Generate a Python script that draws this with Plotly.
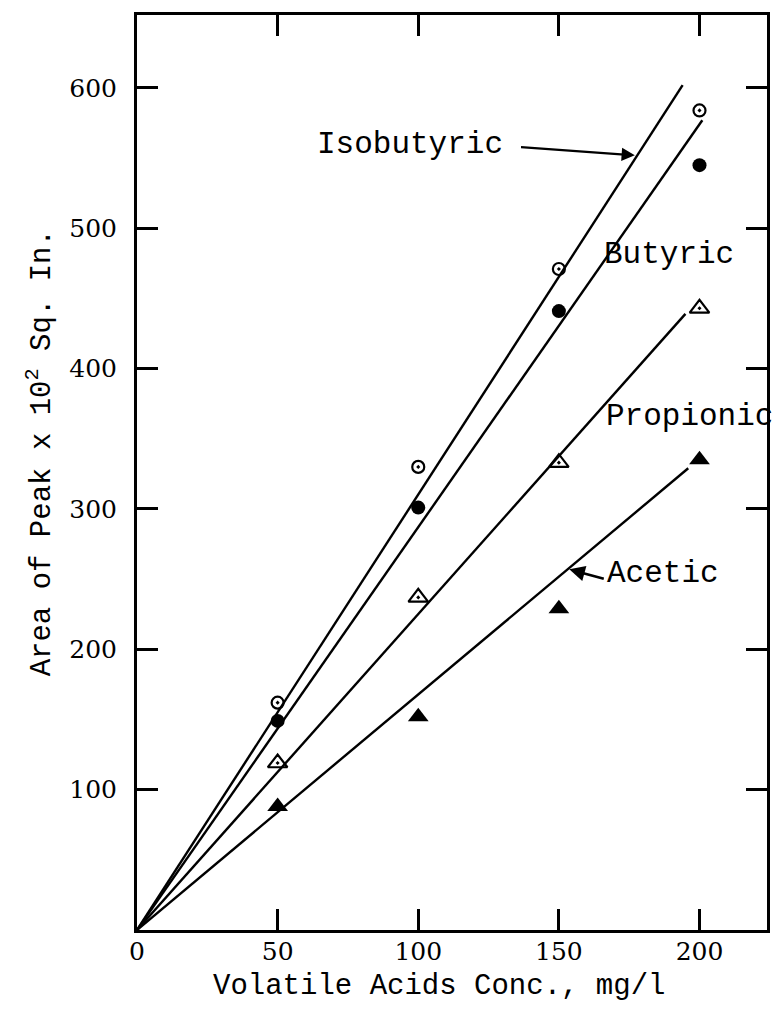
import plotly.graph_objects as go

# Measured peak areas (x 10^2 sq. in.) for each acid at each concentration
conc = [50, 100, 150, 200]
isobutyric = [162, 330, 471, 584]
butyric = [149, 301, 441, 545]
propionic = [119, 237, 333, 443]
acetic = [88, 152, 229, 335]

# Calibration lines drawn from the origin to their end points
fit_isobutyric_x = [0, 194]
fit_isobutyric_y = [0, 602]
fit_butyric_x = [0, 201]
fit_butyric_y = [0, 577]
fit_propionic_x = [0, 195]
fit_propionic_y = [0, 439]
fit_acetic_x = [0, 196]
fit_acetic_y = [0, 329]

x_ticks = [0, 50, 100, 150, 200]
y_ticks = [100, 200, 300, 400, 500, 600]

TYPE_FONT = "Liberation Mono, Courier New, monospace"
NUM_FONT = "DejaVu Serif, serif"
INK = "black"

fig = go.Figure()

for fx, fy in [(fit_isobutyric_x, fit_isobutyric_y), (fit_butyric_x, fit_butyric_y),
               (fit_propionic_x, fit_propionic_y), (fit_acetic_x, fit_acetic_y)]:
    fig.add_trace(go.Scatter(x=fx, y=fy, mode="lines",
                             line=dict(color=INK, width=2.4), showlegend=False,
                             hoverinfo="skip"))

fig.add_trace(go.Scatter(x=conc, y=isobutyric, mode="markers", name="Isobutyric",
                         marker=dict(symbol="circle-open-dot", size=12, color=INK,
                                     line=dict(width=2.2, color=INK))))
fig.add_trace(go.Scatter(x=conc, y=butyric, mode="markers", name="Butyric",
                         marker=dict(symbol="circle", size=14, color=INK)))
fig.add_trace(go.Scatter(x=conc, y=propionic, mode="markers", name="Propionic",
                         marker=dict(symbol="triangle-up-open-dot", size=17, color=INK,
                                     line=dict(width=2.2, color=INK))))
fig.add_trace(go.Scatter(x=conc, y=acetic, mode="markers", name="Acetic",
                         marker=dict(symbol="triangle-up", size=18, color=INK)))

label_font = dict(family=TYPE_FONT, size=31, color=INK)

# Curve labels
fig.add_annotation(x=97, y=560, text="Isobutyric", showarrow=False, font=label_font)
fig.add_annotation(x=189, y=481, text="Butyric", showarrow=False, font=label_font)
fig.add_annotation(x=196.5, y=366, text="Propionic", showarrow=False, font=label_font)
fig.add_annotation(x=187, y=254, text="Acetic", showarrow=False, font=label_font)

# Pointer arrows
fig.add_annotation(x=177, y=552, ax=136, ay=558, xref="x", yref="y", axref="x", ayref="y",
                   text="", showarrow=True, arrowhead=2, arrowsize=1.2, arrowwidth=2.2,
                   arrowcolor=INK)
fig.add_annotation(x=153.7, y=257, ax=166.5, ay=250, xref="x", yref="y", axref="x", ayref="y",
                   text="", showarrow=True, arrowhead=2, arrowsize=1.2, arrowwidth=2.6,
                   arrowcolor=INK)

# Axis titles
fig.add_annotation(xref="paper", yref="paper", x=0.479, y=-0.062,
                   xanchor="center", yanchor="middle",
                   text="Volatile Acids Conc., mg/l", showarrow=False,
                   font=dict(family=TYPE_FONT, size=29, color=INK))
fig.add_annotation(xref="paper", yref="paper", x=-0.154, y=0.522, textangle=-90,
                   xanchor="center", yanchor="middle",
                   text="Area of Peak x 10<sup>2</sup> Sq. In.", showarrow=False,
                   font=dict(family=TYPE_FONT, size=29, color=INK))

axis_common = dict(showgrid=False, zeroline=False, showline=True, linecolor=INK,
                   linewidth=3, mirror="ticks", ticks="inside", ticklen=21,
                   tickwidth=2.5, tickcolor=INK,
                   tickfont=dict(family=NUM_FONT, size=25, color=INK))

fig.update_xaxes(range=[0, 224], tickvals=x_ticks, ticktext=[str(v) for v in x_ticks],
                 ticklabelstandoff=-3, **axis_common)
fig.update_yaxes(range=[0, 652], tickvals=y_ticks, ticktext=[str(v) for v in y_ticks],
                 ticklabelstandoff=12, **axis_common)

fig.update_layout(width=782, height=1013, showlegend=False,
                  margin=dict(l=137, r=12, t=13, b=83),
                  paper_bgcolor="white", plot_bgcolor="white")

fig.write_html("out.html")
